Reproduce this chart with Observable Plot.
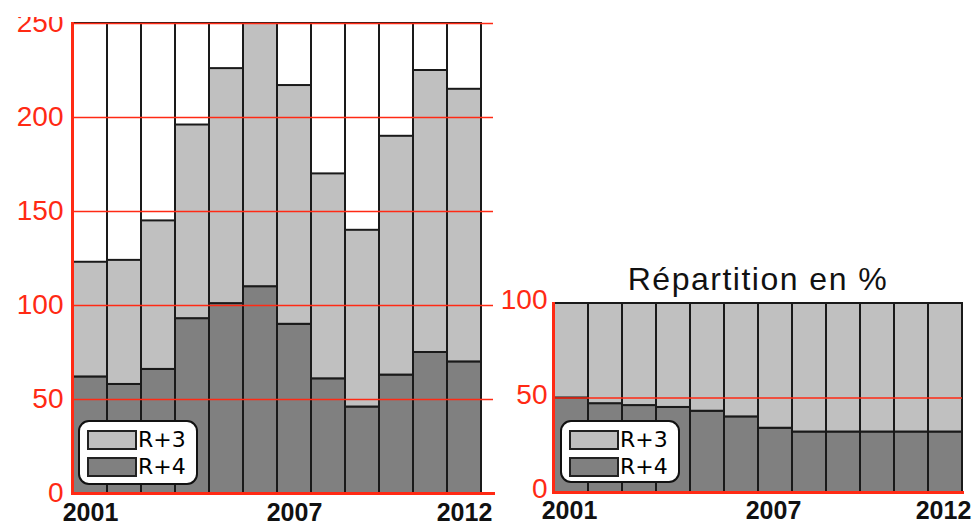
<!DOCTYPE html>
<html>
<head>
<meta charset="utf-8">
<script src="https://cdn.jsdelivr.net/npm/d3@7"></script>
<script src="https://cdn.jsdelivr.net/npm/@observablehq/plot@0.6"></script>
<style>
  html, body { margin: 0; padding: 0; background: #fff; }
  #wrap { position: relative; width: 972px; height: 526px; overflow: hidden; font-family: "Liberation Sans", Arial, sans-serif; }
  #left, #right { position: absolute; top: 0; }
  #left { left: 0; }
  #right { left: 500px; }
  #topcover { position: absolute; left: 0; top: 0; width: 500px; height: 17px; background: #fff; }
  .legend { position: absolute; background: #fff; border: 2px solid #111; border-radius: 11px; box-sizing: border-box; }
  .row { position: absolute; display: flex; align-items: center; }
  .sw { width: 50px; height: 20px; border: 2px solid #222; box-sizing: border-box; }
  .lab { font-family: "DejaVu Sans", sans-serif; font-size: 22px; color: #000; margin-left: 1px; line-height: 20px; }
</style>
</head>
<body>
<div id="wrap">
  <div id="left"></div>
  <div id="right"></div>
  <div id="topcover"></div>
</div>
<script>
const years = [2001, 2002, 2003, 2004, 2005, 2006, 2007, 2008, 2009, 2010, 2011, 2012];
const totalR3R4 = [123, 124, 145, 196, 226, 250, 217, 170, 140, 190, 225, 215];
const valuesR4 = [62, 58, 66, 93, 101, 110, 90, 61, 46, 63, 75, 70];
const pctR4 = [50, 47, 46, 45, 43, 40, 34, 32, 32, 32, 32, 32];
const seriesNames = ["R+3", "R+4"];
const seriesColors = ["#c0c0c0", "#808080"];
const yTicksLeft = [0, 50, 100, 150, 200, 250];
const yTicksRight = [0, 50, 100];
const gridRight = [50];
const xTickLabels = [2001, 2007, 2012];
const chartTitle = "Répartition en %";

const RED = "#ff2a14";
const STROKE = "#1a1a1a";
const FONT = "'Liberation Sans', Arial, sans-serif";

const leftRows = [];
years.forEach((yr, i) => {
  leftRows.push({year: yr, series: "R+4", value: valuesR4[i]});
  leftRows.push({year: yr, series: "R+3", value: totalR3R4[i] - valuesR4[i]});
});
const rightRows = [];
years.forEach((yr, i) => {
  rightRows.push({year: yr, series: "R+4", value: pctR4[i]});
  rightRows.push({year: yr, series: "R+3", value: 100 - pctR4[i]});
});

const leftMax = yTicksLeft[yTicksLeft.length - 1];
const rightMax = yTicksRight[yTicksRight.length - 1];
const fmtYear = d => String(d);

const left = Plot.plot({
  width: 500, height: 526,
  marginLeft: 72, marginRight: 7, marginTop: 23, marginBottom: 33,
  style: {fontFamily: FONT, background: "transparent", overflow: "visible"},
  x: {type: "band", domain: years, padding: 0, insetRight: 12},
  y: {domain: [0, leftMax]},
  color: {domain: seriesNames, range: seriesColors},
  marks: [
    Plot.barY(years, {x: d => d, y1: 0, y2: leftMax, fill: "#fff", stroke: STROKE, strokeWidth: 2}),
    Plot.barY(leftRows, {x: "year", y: "value", fill: "series", order: ["R+4", "R+3"], stroke: STROKE, strokeWidth: 2}),
    Plot.gridY(yTicksLeft, {stroke: RED, strokeOpacity: 1, strokeWidth: 1.5}),
    Plot.frame({anchor: "left", stroke: RED, strokeWidth: 3}),
    Plot.frame({anchor: "bottom", stroke: RED, strokeWidth: 3}),
    Plot.axisY(yTicksLeft, {tickSize: 0, tickPadding: 9, dy: 0, fontSize: 28, fill: RED, label: null}),
    Plot.axisX(xTickLabels, {tickSize: 0, tickPadding: 10, fontSize: 25, fontWeight: "bold", fill: "#111", label: null, tickFormat: fmtYear})
  ]
});
document.getElementById("left").appendChild(left);

const right = Plot.plot({
  width: 472, height: 526,
  marginLeft: 53, marginRight: 10, marginTop: 303, marginBottom: 34,
  style: {fontFamily: FONT, background: "transparent", overflow: "visible"},
  x: {type: "band", domain: years, padding: 0},
  y: {domain: [0, rightMax]},
  color: {domain: seriesNames, range: seriesColors},
  marks: [
    Plot.barY(rightRows, {x: "year", y: "value", fill: "series", order: ["R+4", "R+3"], stroke: STROKE, strokeWidth: 2}),
    Plot.gridY(gridRight, {stroke: RED, strokeOpacity: 1, strokeWidth: 1.5}),
    Plot.frame({anchor: "left", stroke: RED, strokeWidth: 3}),
    Plot.frame({anchor: "bottom", stroke: RED, strokeWidth: 3}),
    Plot.axisY(yTicksRight, {tickSize: 0, tickPadding: 6, dy: -3, fontSize: 28, fill: RED, label: null}),
    Plot.axisX(xTickLabels, {tickSize: 0, tickPadding: 9, dx: -2, fontSize: 25, fontWeight: "bold", fill: "#111", label: null, tickFormat: fmtYear}),
    Plot.text([chartTitle], {frameAnchor: "top", lineAnchor: "middle", dy: -24, fontSize: 32, fill: "#111"})
  ]
});
document.getElementById("right").appendChild(right);
right.querySelectorAll("text").forEach(t => { if (t.textContent === chartTitle) t.style.letterSpacing = "1.5px"; });

function addLegend(x, y, w, h) {
  const box = document.createElement("div");
  box.className = "legend";
  Object.assign(box.style, {left: x + "px", top: y + "px", width: w + "px", height: h + "px"});
  seriesNames.forEach((name, i) => {
    const row = document.createElement("div");
    row.className = "row";
    Object.assign(row.style, {left: "7px", top: (8 + i * 27) + "px"});
    const sw = document.createElement("div");
    sw.className = "sw";
    sw.style.background = seriesColors[i];
    const lab = document.createElement("span");
    lab.className = "lab";
    lab.textContent = name;
    row.appendChild(sw);
    row.appendChild(lab);
    box.appendChild(row);
  });
  document.getElementById("wrap").appendChild(box);
}
addLegend(78, 420, 120, 65);
addLegend(560, 420, 120, 63);
</script>
</body>
</html>
